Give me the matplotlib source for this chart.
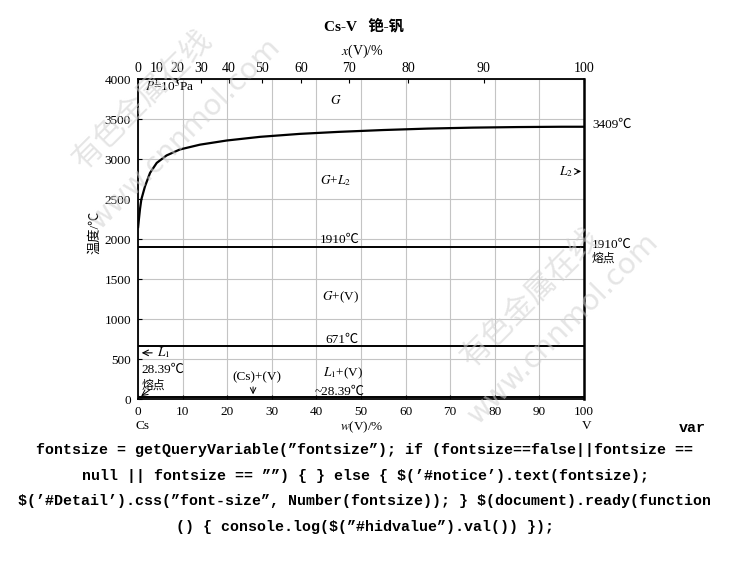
import numpy as np
import matplotlib
matplotlib.use("Agg")
import matplotlib.pyplot as plt

plt.rcParams['font.family'] = ['Liberation Serif', 'Noto Sans CJK SC', 'DejaVu Serif']
plt.rcParams['mathtext.fontset'] = 'stix'

# liquidus / gas boundary (w(V) %, temperature C)
curve_w = [0, 0.2, 0.45, 0.75, 1.57, 2.7, 4.2, 6.4, 9.4, 13.9, 19.9, 27.4,
           36.3, 45, 55, 65, 75, 85, 95, 100]
curve_t = [2140, 2250, 2380, 2500, 2664, 2832, 2957, 3050, 3125, 3185, 3237,
           3283, 3320, 3345, 3368, 3386, 3398, 3405, 3409, 3409]

# invariant horizontal lines
iso_t = [1910, 671, 28.39]

# top axis: atomic percent, converted with atomic masses
x_at_ticks = [0, 10, 20, 30, 40, 50, 60, 70, 80, 90, 100]
m_v, m_cs = 50.94, 132.905

w_ticks = [0, 10, 20, 30, 40, 50, 60, 70, 80, 90, 100]
t_ticks = [0, 500, 1000, 1500, 2000, 2500, 3000, 3500, 4000]

fig = plt.figure(figsize=(7.3, 5.78), dpi=100)
ax = fig.add_axes([138/730, 1-399.3/578, 446/730, (399.3-79.5)/578])

ax.set_xlim(0, 100)
ax.set_ylim(0, 4000)
ax.set_xticks(w_ticks)
ax.set_yticks(t_ticks)
ax.tick_params(direction='in', length=3, labelsize=9.5, pad=5)
ax.grid(True, color='#c4c4c4', lw=0.8)
ax.set_axisbelow(True)
for s in ax.spines.values():
    s.set_linewidth(1.3)
ax.spines['right'].set_linewidth(1.8)

ax.plot(curve_w, curve_t, color='black', lw=1.6, solid_capstyle='butt')
for t in iso_t:
    ax.plot([0, 100], [t, t], color='black', lw=1.4)

# top axis
w_top = [x*m_v/(x*m_v + (100-x)*m_cs)*100 for x in x_at_ticks]
ax2 = ax.twiny()
ax2.set_xlim(0, 100)
ax2.set_xticks(w_top)
ax2.set_xticklabels([str(x) for x in x_at_ticks])
ax2.tick_params(direction='in', length=3, labelsize=10, pad=3)
for s in ax2.spines.values():
    s.set_visible(False)

fs = 9.5
ax.text(1.6, 3915, '$P$=10$^5$Pa', fontsize=fs, ha='left', va='center')
ax.text(44.4, 3738, '$G$', fontsize=fs, ha='center', va='center')
ax.text(44.2, 2736, '$G$+$L_2$', fontsize=fs, ha='center', va='center')
ax.text(101.8, 3430, '3409℃', fontsize=fs, ha='left', va='center', clip_on=False)
ax.annotate('', xy=(100, 2850), xytext=(97.8, 2850),
            arrowprops=dict(arrowstyle='->', lw=0.8, color='black'))
ax.text(97.6, 2850, '$L_2$', fontsize=fs, ha='right', va='center')
ax.text(45.3, 1997, '1910℃', fontsize=fs, ha='center', va='center')
ax.text(101.8, 1930, '1910℃', fontsize=fs, ha='left', va='center', clip_on=False)
ax.text(101.8, 1765, '熔点', fontsize=fs-1, ha='left', va='center', clip_on=False)
ax.text(45.5, 1282, '$G$+(V)', fontsize=fs, ha='center', va='center')
ax.text(45.7, 744, '671℃', fontsize=fs, ha='center', va='center')
ax.annotate('', xy=(0.2, 581), xytext=(3.8, 581),
            arrowprops=dict(arrowstyle='->', lw=0.8, color='black'))
ax.text(4.2, 581, '$L_1$', fontsize=fs, ha='left', va='center')
ax.text(0.7, 367, '28.39℃', fontsize=fs, ha='left', va='center')
ax.text(0.7, 172, '熔点', fontsize=fs-1, ha='left', va='center')
ax.annotate('', xy=(0.2, 20), xytext=(3.2, 140),
            arrowprops=dict(arrowstyle='->', lw=0.7, color='black'))
ax.text(26.7, 280, '(Cs)+(V)', fontsize=fs, ha='center', va='center')
ax.annotate('', xy=(25.8, 28), xytext=(25.8, 190),
            arrowprops=dict(arrowstyle='->', lw=0.7, color='black'))
ax.text(46, 330, '$L_1$+(V)', fontsize=fs, ha='center', va='center')
ax.text(45.3, 92, '~28.39℃', fontsize=fs, ha='center', va='center')
ax.text(0.9, -330, 'Cs', fontsize=fs, ha='center', va='center', clip_on=False)
ax.text(100.7, -330, 'V', fontsize=fs, ha='center', va='center', clip_on=False)

fig.text(362/730, 1-427/578, '$w$(V)/%', fontsize=9.5, ha='center', va='center')
fig.text(362/730, 1-51/578, '$x$(V)/%', fontsize=10, ha='center', va='center')
fig.text(95/730, 1-232/578, '温度/℃', fontsize=9.5, rotation=90,
         ha='center', va='center')
fig.text(364/730, 1-26/578, 'Cs-V   铯-钒', fontsize=11, fontweight='bold',
         ha='center', va='center')

# watermarks
wm = dict(color='#d0d0d0', alpha=0.55, fontsize=22, rotation=45, ha='center',
          va='center', family=['Noto Sans CJK SC'])
fig.text(143/730, 1-100/578, '有色金属在线', **wm)
fig.text(531/730, 1-298/578, '有色金属在线', **wm)
wm2 = dict(wm)
wm2['family'] = ['DejaVu Sans']
wm2['fontsize'] = 21
fig.text(185/730, 1-133/578, 'www.cnnmol.com', **wm2)
fig.text(563/730, 1-328/578, 'www.cnnmol.com', **wm2)

# page text below the figure
code = dict(family=['Liberation Mono'], fontweight='bold', fontsize=10.8,
            ha='center', va='center', parse_math=False)
fig.text(692/730, 1-428/578, 'var', **code)
lines = ['fontsize = getQueryVariable(”fontsize”); if (fontsize==false||fontsize ==',
         'null || fontsize == ””) { } else { $(’#notice’).text(fontsize);',
         '$(’#Detail’).css(”font-size”, Number(fontsize)); } $(document).ready(function',
         '() { console.log($(”#hidvalue”).val()) });']
for i, ln in enumerate(lines):
    fig.text(365/730, 1-(450 + 25.7*i)/578, ln, **code)

fig.savefig('out.png', dpi=100)
